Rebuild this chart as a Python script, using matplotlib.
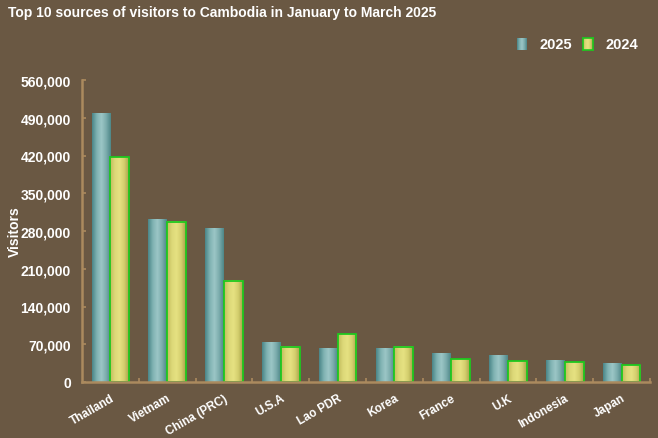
import matplotlib
matplotlib.use('Agg')
import matplotlib.pyplot as plt
import numpy as np
from matplotlib.colors import LinearSegmentedColormap

# data
countries = ['Thailand', 'Vietnam', 'China (PRC)', 'U.S.A', 'Lao PDR',
             'Korea', 'France', 'U.K', 'Indonesia', 'Japan']
visitors_2025 = [498000, 302000, 284000, 73500, 63000,
                 62500, 52000, 50000, 40500, 34000]
visitors_2024 = [417000, 297000, 187500, 65500, 89000,
                 65500, 42500, 38500, 37000, 31500]
yticks = [0, 70000, 140000, 210000, 280000, 350000, 420000, 490000, 560000]

bg = '#6a5843'
axis_col = '#ab8a5e'
plt.rcParams['font.family'] = ['Liberation Sans', 'DejaVu Sans']

# cylinder-like shading for the bars
teal_cmap = LinearSegmentedColormap.from_list(
    'teal', ['#4a8688', '#7fb2b2', '#9cc6c6', '#7cadad', '#4e8788'])
yellow_cmap = LinearSegmentedColormap.from_list(
    'yellow', ['#c2bc5c', '#dcd878', '#e6e282', '#d4cf6e', '#aaa34a'])
grad = np.linspace(0, 1, 64).reshape(1, -1)

fig = plt.figure(figsize=(6.58, 4.39), dpi=100, facecolor=bg)
ax = fig.add_axes([82 / 658, 56 / 439, 568 / 658, 302 / 439], facecolor=bg)

x = np.arange(len(countries))
w = 0.33
bars25 = ax.bar(x - w / 2, visitors_2025, w, facecolor='none', edgecolor='none')
bars24 = ax.bar(x + w / 2, visitors_2024, w, facecolor='none',
                edgecolor='#1ec81e', linewidth=1.3)

def shade(bars, cmap):
    for b in bars:
        x0, y0 = b.get_x(), b.get_y()
        ax.imshow(grad, cmap=cmap, aspect='auto', zorder=1.5,
                  extent=(x0, x0 + b.get_width(), y0, y0 + b.get_height()))

shade(bars25, teal_cmap)
shade(bars24, yellow_cmap)
for b in bars24:
    b.set_zorder(2)

ax.set_xlim(-0.5, len(countries) - 0.5)
ax.set_ylim(0, 560000)

ax.set_yticks(yticks)
ax.set_yticklabels(['{:,}'.format(v) for v in yticks])
ax.set_xticks(x)
ax.set_xticklabels(countries, rotation=30, ha='right', rotation_mode='anchor')
ax.set_xticks(x[:-1] + 0.5, minor=True)
ax.set_xticks(list(x[:-1] + 0.5) + [len(countries) - 0.5], minor=True)

ax.tick_params(axis='y', direction='in', length=3, color=axis_col, width=1.2,
               labelcolor='white', labelsize=10, pad=8)
ax.tick_params(axis='x', which='major', length=0, labelcolor='white',
               labelsize=8.5, pad=7)
ax.tick_params(axis='x', which='minor', direction='in', length=3,
               color=axis_col, width=1.2)
for lbl in ax.get_xticklabels() + ax.get_yticklabels():
    lbl.set_fontweight('bold')

for s in ['top', 'right']:
    ax.spines[s].set_visible(False)
for s in ['left', 'bottom']:
    ax.spines[s].set_color(axis_col)
    ax.spines[s].set_linewidth(1.8)

fig.text(8 / 658, 1 - 13 / 439, 'Top 10 sources of visitors to Cambodia in January to March 2025',
         color='white', fontsize=10, fontweight='bold', va='center', ha='left')
fig.text(15 / 658, 1 - 232 / 439, 'Visitors', color='white', fontsize=10,
         fontweight='bold', rotation=90, va='center', ha='center')

# legend drawn by hand to keep the shaded swatches
for left, cmap, label, edge in [(517, teal_cmap, '2025', None),
                                (583, yellow_cmap, '2024', '#1ec81e')]:
    lax = fig.add_axes([left / 658, 1 - 51 / 439, 10 / 658, 12 / 439])
    lax.imshow(grad, cmap=cmap, aspect='auto')
    lax.set_xticks([])
    lax.set_yticks([])
    for sp in lax.spines.values():
        sp.set_visible(edge is not None)
        if edge:
            sp.set_color(edge)
            sp.set_linewidth(1.2)
    fig.text((left + 22) / 658, 1 - 45 / 439, label, color='white',
             fontsize=10.5, fontweight='bold', va='center', ha='left')

fig.savefig('out.png', dpi=100, facecolor=bg)
